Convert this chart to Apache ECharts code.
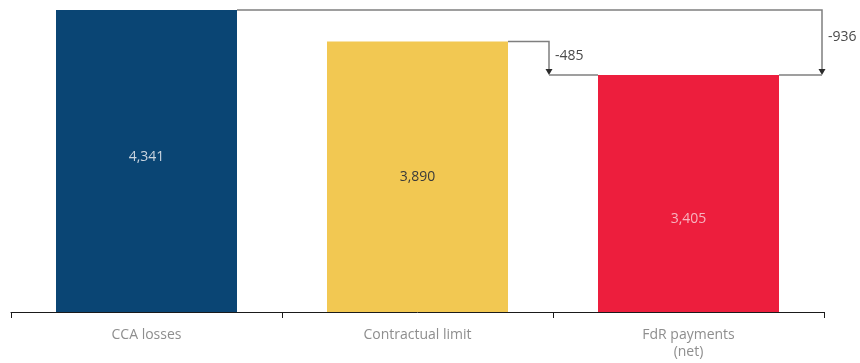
<!DOCTYPE html>
<html>
<head>
<meta charset="utf-8">
<script src="https://cdn.jsdelivr.net/npm/echarts@6/dist/echarts.min.js"></script>
<style>
  html, body { margin: 0; padding: 0; background: #fff; }
  #chart { width: 860px; height: 363px; }
</style>
</head>
<body>
<div id="chart"></div>
<script>
// Categories and amounts (EUR m)
const categories = ['CCA losses', 'Contractual limit', 'FdR payments\n(net)'];
const amounts = [4341, 3890, 3405];
const barColors = ['#0a4574', '#f2c852', '#ed1e3d'];
const labelColors = ['#c9d4df', '#3a3a3a', '#f7b3bf'];
// Bridges: [from category index, to category index]
const bridges = [[1, 2], [0, 2]];

const chart = echarts.init(document.getElementById('chart'));
const FONT = '"Open Sans", "DejaVu Sans", sans-serif';
const BAR_W = 181;
const labelShift = [-4, 0, 25];

const fmt = v => v.toLocaleString('en-US');

// Each bridge: line from the top of the "from" bar across to a vertical arrow,
// down to the level of the "to" bar, then across to that bar.
function renderBridge(params, api) {
  const fromIdx = api.value(0);
  const toIdx = api.value(1);
  const fromVal = amounts[fromIdx];
  const toVal = amounts[toIdx];
  const band = api.size([1, 0])[0];
  const pFrom = api.coord([fromIdx, fromVal]);
  const pTo = api.coord([toIdx, toVal]);
  // vertical sits just left of the boundary following the step before the "to" bar,
  // or near the right end of the axis when skipping over it
  const adjacent = toIdx - fromIdx === 1;
  const xv = adjacent ? pFrom[0] + band / 2 - 4 : pTo[0] + band / 2 - 2;
  const x0 = pFrom[0] + BAR_W / 2;
  const y0 = pFrom[1];
  const y1 = pTo[1];
  const xEnd = adjacent ? pTo[0] - BAR_W / 2 : pTo[0] + BAR_W / 2;
  const stroke = { stroke: '#7f7f7f', lineWidth: 1.5, fill: null };
  const ah = 6, aw = 3.5;
  return {
    type: 'group',
    children: [
      { type: 'polyline', shape: { points: [[x0, y0], [xv, y0], [xv, y1 - ah]] }, style: stroke },
      { type: 'polygon', shape: { points: [[xv - aw, y1 - ah], [xv + aw, y1 - ah], [xv, y1]] },
        style: { fill: '#2b2b2b' } },
      { type: 'line', shape: { x1: xv, y1: y1, x2: xEnd, y2: y1 }, style: stroke },
      { type: 'text', x: xv + 6, y: (y0 + y1) / 2 - (adjacent ? 2 : 6),
        style: { text: fmt(toVal - fromVal), font: '14px ' + FONT, fill: '#4a4a4a',
                 textVerticalAlign: 'middle', textAlign: 'left' } }
    ]
  };
}

chart.setOption({
  animation: false,
  grid: { left: 11, right: 36, top: 10, bottom: 51 },
  xAxis: {
    type: 'category',
    data: categories,
    axisLine: { lineStyle: { color: '#1a1a1a', width: 1 } },
    axisTick: { show: true, length: 6, alignWithLabel: false, lineStyle: { color: '#1a1a1a' } },
    axisLabel: { color: '#8e8e8e', fontSize: 14, fontFamily: FONT, margin: 15, lineHeight: 17 }
  },
  yAxis: {
    type: 'value', min: 0, max: 4341,
    show: false, splitLine: { show: false }
  },
  series: [
    {
      type: 'bar',
      barWidth: BAR_W,
      data: amounts.map((v, i) => ({
        value: v,
        itemStyle: { color: barColors[i] },
        label: {
          show: true, position: 'inside', formatter: p => fmt(p.value),
          color: labelColors[i], fontSize: 14, fontFamily: FONT,
          offset: [0, labelShift[i]]
        }
      }))
    },
    {
      type: 'custom',
      renderItem: renderBridge,
      data: bridges,
      clip: false,
      z: 5
    }
  ]
});
</script>
</body>
</html>
